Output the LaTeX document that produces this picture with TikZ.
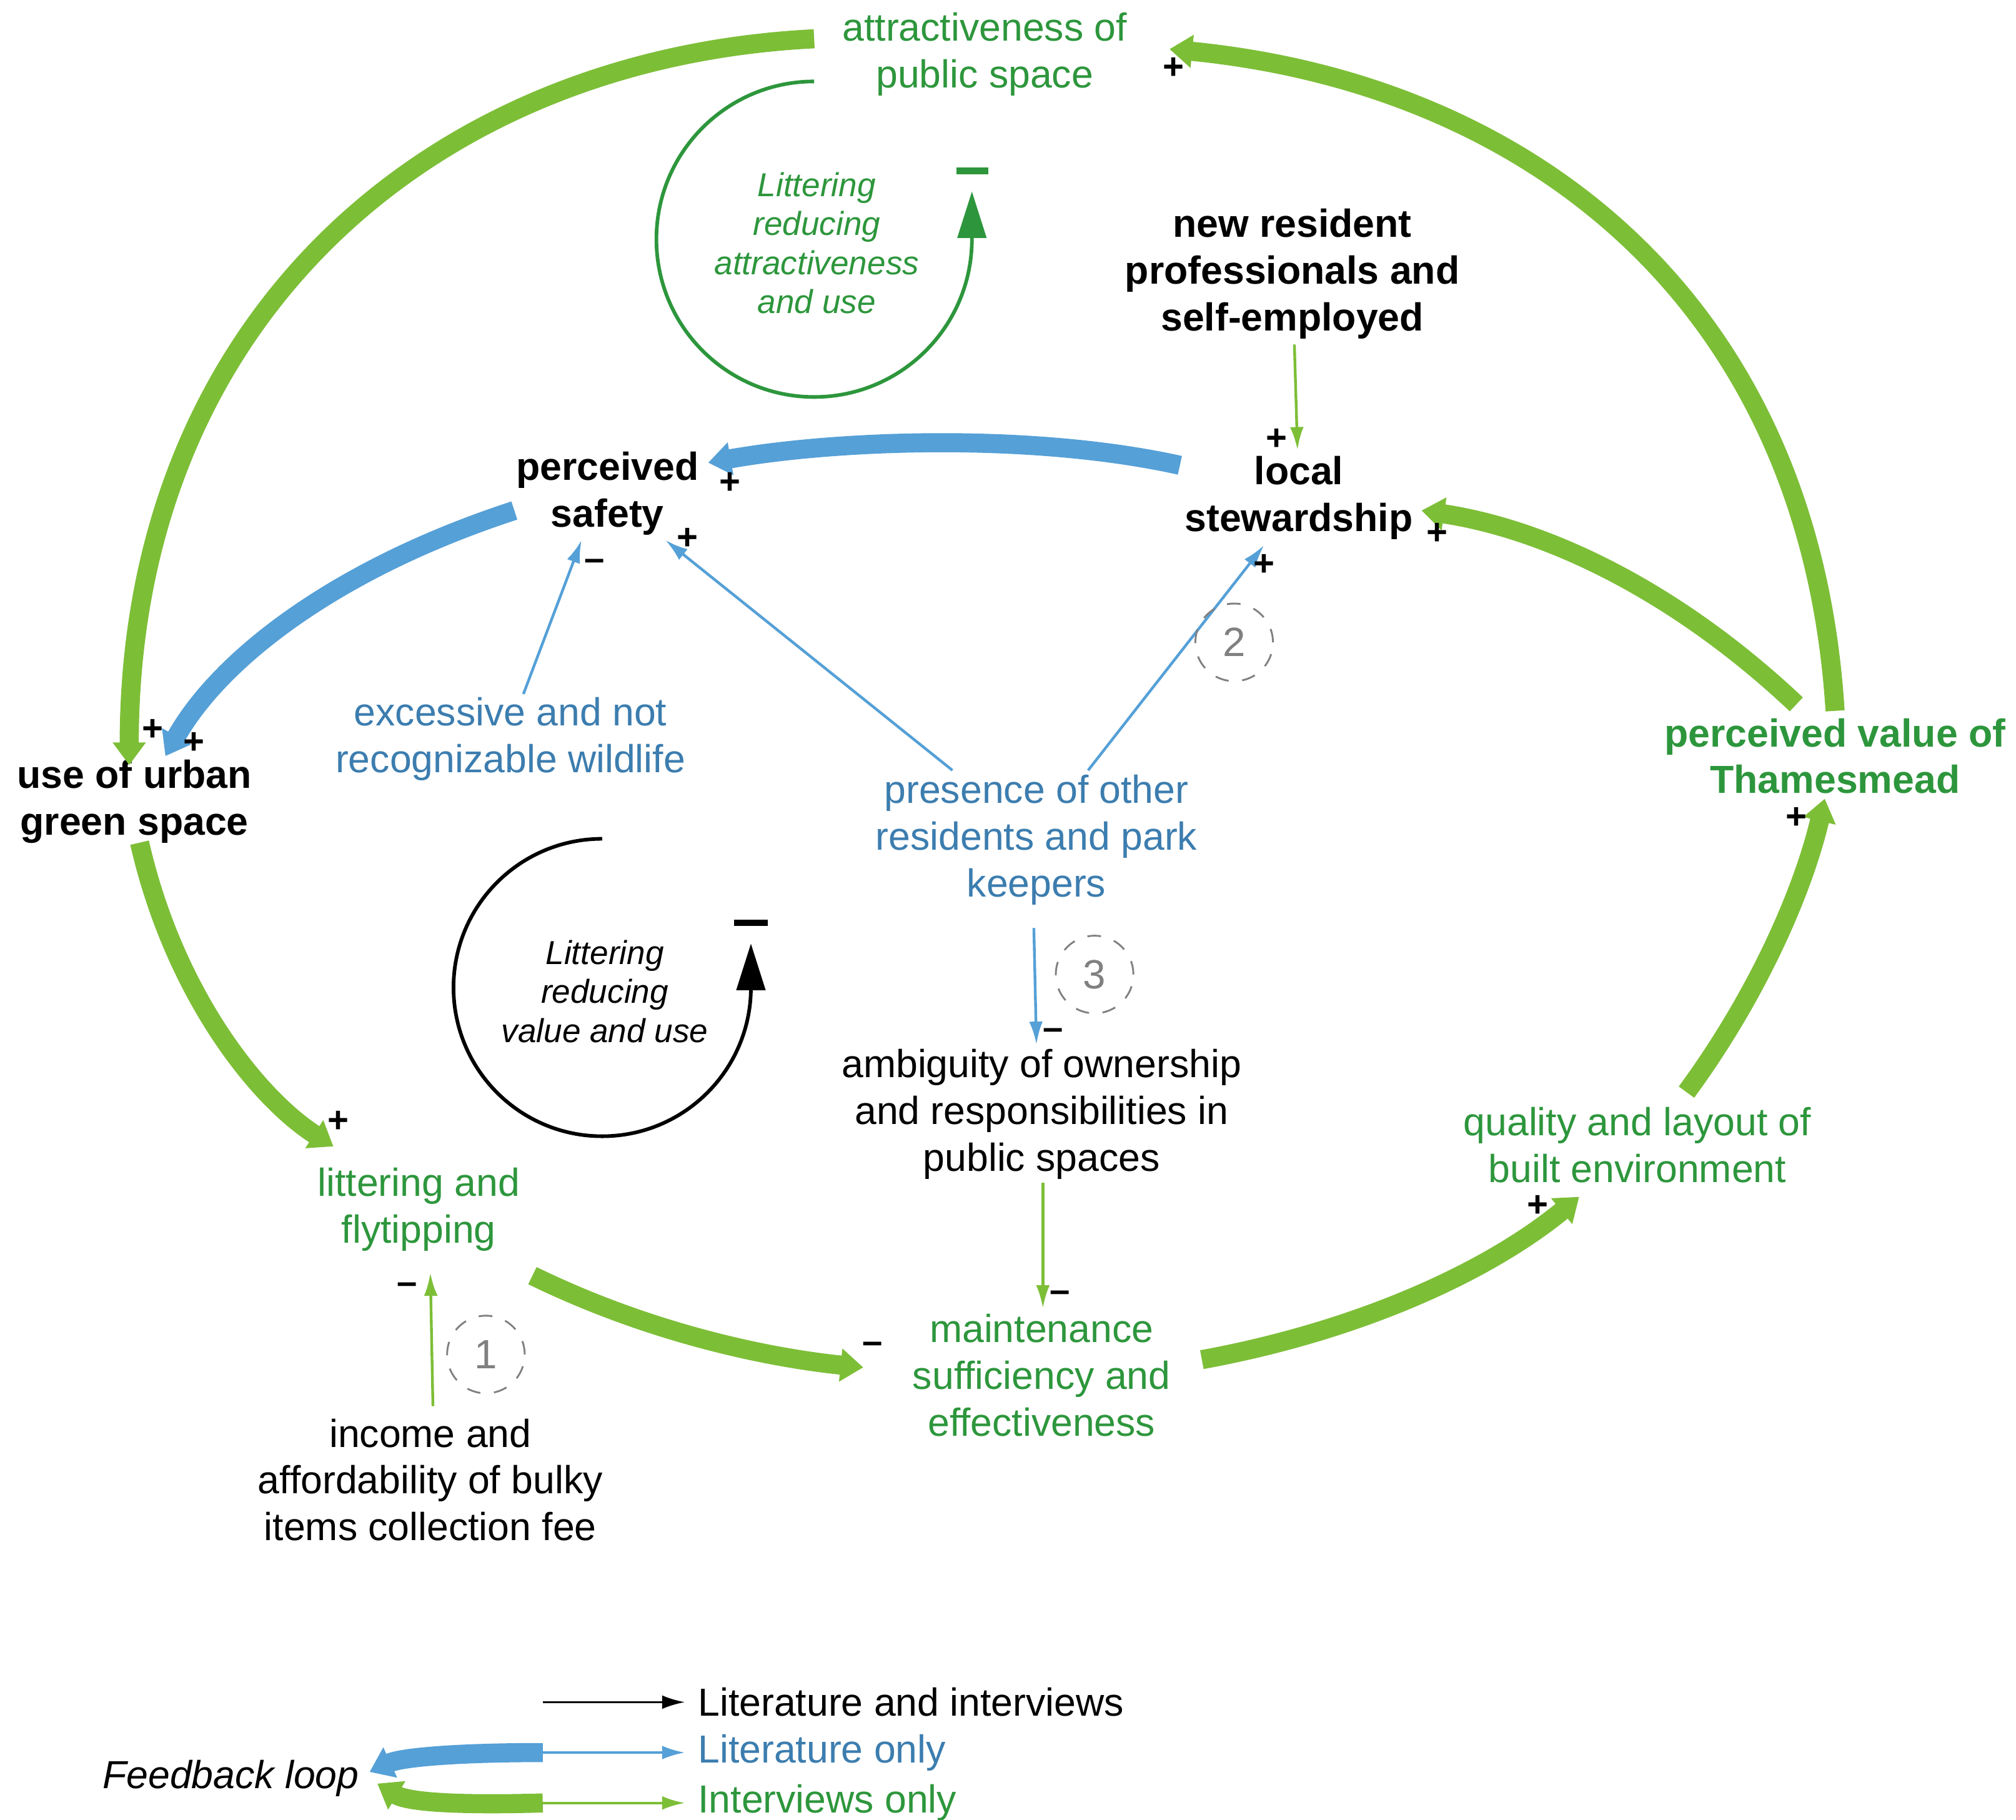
\documentclass[tikz,border=0pt]{standalone}
\usepackage{fontspec}
\setmainfont{Liberation Sans}
\usetikzlibrary{arrows.meta}
\definecolor{gtext}{RGB}{45,150,60}
\definecolor{garc}{RGB}{125,190,55}
\definecolor{barc}{RGB}{85,160,215}
\definecolor{btext}{RGB}{60,125,175}
\begin{document}
\begin{tikzpicture}[x=0.01cm,y=-0.01cm,
  lbl/.style={align=center,inner sep=1pt,font=\fontsize{8.6}{10.3}\selectfont},
  gl/.style={lbl,text=gtext},
  bl/.style={lbl,text=btext},
  bk/.style={lbl,font=\fontsize{8.6}{10.3}\selectfont\bfseries},
  loopt/.style={align=center,font=\fontsize{7.3}{8.6}\selectfont\itshape},
  sgn/.style={font=\fontsize{8}{9}\selectfont\bfseries,inner sep=0pt},
  thg/.style={draw=garc,line width=4.2pt,-{Triangle[length=5pt,width=7pt]}},
  thb/.style={draw=barc,line width=4.2pt,-{Triangle[length=5pt,width=7pt]}},
  tng/.style={draw=garc,line width=0.6pt,-{Latex[length=5pt,width=3pt]}},
  tnb/.style={draw=barc,line width=0.6pt,-{Latex[length=5pt,width=3pt]}},
  tnk/.style={draw=black,line width=0.5pt,-{Latex[length=5pt,width=3pt]}},
  num/.style={circle,draw=gray,dashed,minimum size=0.6cm,inner sep=0pt,text=gray,font=\fontsize{9}{10}\selectfont}]
\useasboundingbox (0,0) rectangle (1560,1408);

% variables
\node[gl] (attr) at (762,42) {attractiveness of\\public space};
\node[bk] (newres) at (1000,212) {new resident\\professionals and\\self-employed};
\node[bk] (safety) at (470,382) {perceived\\safety};
\node[bk] (stew) at (1005,385) {local\\stewardship};
\node[bk] (use) at (104,620) {use of urban\\green space};
\node[bl] (wild) at (395,572) {excessive and not\\recognizable wildlife};
\node[bl] (pres) at (802,650) {presence of other\\residents and park\\keepers};
\node[gl,font=\fontsize{8.6}{10.3}\selectfont\bfseries] (value) at (1420,585) {perceived value of\\Thamesmead};
\node[lbl] (ambig) at (806,862) {ambiguity of ownership\\and responsibilities in\\public spaces};
\node[gl] (qual) at (1267,886) {quality and layout of\\built environment};
\node[gl] (litter) at (324,936) {littering and\\flytipping};
\node[gl] (maint) at (806,1064) {maintenance\\sufficiency and\\effectiveness};
\node[lbl] (income) at (333,1145) {income and\\affordability of bulky\\items collection fee};

% end points of the thick connectors
\coordinate (a1) at (630,30);   \coordinate (u1) at (100,592);
\coordinate (v1) at (1420,550); \coordinate (a2) at (905,38);
\coordinate (v2) at (1390,545); \coordinate (s1) at (1100,395);
\coordinate (q1) at (1305,845); \coordinate (v3) at (1412,618);
\coordinate (m1) at (930,1052); \coordinate (q2) at (1222,926);
\coordinate (l1) at (412,987);  \coordinate (m2) at (668,1058);
\coordinate (u2) at (108,652);  \coordinate (l2) at (258,887);
\coordinate (s2) at (913,360);  \coordinate (p1) at (548,358);
\coordinate (p2) at (398,395);  \coordinate (u3) at (128,585);

\draw[thg] (a1) .. controls (330,45) and (100,250) .. (u1);
\draw[thg] (v1) .. controls (1400,230) and (1180,65) .. (a2);
\draw[thg] (v2) .. controls (1300,460) and (1200,410) .. (s1);
\draw[thg] (q1) .. controls (1360,770) and (1395,690) .. (v3);
\draw[thg] (m1) .. controls (1050,1030) and (1150,985) .. (q2);
\draw[thg] (l1) .. controls (500,1030) and (590,1050) .. (m2);
\draw[thg] (u2) .. controls (135,770) and (200,850) .. (l2);
\draw[thb] (s2) .. controls (800,335) and (650,340) .. (p1);
\draw[thb] (p2) .. controls (260,440) and (170,510) .. (u3);

% thin connectors
\draw[tng] (newres) -- (1004,348);
\draw[tnb] (405,537) -- (450,418);
\draw[tnb] (737,596) -- (515,418);
\draw[tnb] (842,596) -- (978,422);
\draw[tnb] (800,718) -- (802,808);
\draw[tng] (807,915) -- (807,1012);
\draw[tng] (335,1088) -- (333,985);

% polarities
\foreach \p/\s in {{908,53}/+,{565,374}/+,{532,417}/+,{460,437}/--,{988,340}/+,
  {1112,413}/+,{978,437}/+,{118,565}/+,{150,575}/+,{1390,633}/+,{262,868}/+,
  {815,800}/--,{315,997}/--,{820,1003}/--,{675,1043}/--,{1190,933}/+}
  \node[sgn] at (\p) {\s};

% feedback loops
\draw[gtext,line width=0.8pt,-{Triangle[length=0.36cm,width=0.22cm]}] (630,63) arc[start angle=90,end angle=360,radius=1.22cm] -- ++(0,-37);
\draw[gtext,line width=1.5pt] (740,132) -- (765,132);
\node[loopt,text=gtext] (lp1) at (632,188) {Littering\\reducing\\attractiveness\\and use};
\draw[black,line width=0.8pt,-{Triangle[length=0.36cm,width=0.22cm]}] (466,649) arc[start angle=90,end angle=360,radius=1.15cm] -- ++(0,-34);
\draw[black,line width=1.5pt] (568,714) -- (594,714);
\node[loopt] (lp2) at (468,767) {Littering\\reducing\\value and use};

\node[num] (n1) at (376,1048) {1};
\node[num] (n2) at (955,497) {2};
\node[num] (n3) at (847,754) {3};

% legend
\coordinate (k0) at (420,1317); \coordinate (k1) at (530,1317);
\coordinate (b0) at (420,1356); \coordinate (b1) at (530,1356);
\coordinate (g0) at (420,1395); \coordinate (g1) at (530,1395);
\draw[tnk] (k0) -- (k1);
\draw[tnb] (b0) -- (b1);
\draw[tng] (g0) -- (g1);
\node[lbl,anchor=west] (lk) at (536,1317) {Literature and interviews};
\node[lbl,anchor=west,text=btext] (lb) at (536,1356) {Literature only};
\node[lbl,anchor=west,text=gtext] (lg) at (536,1395) {Interviews only};
\node[lbl,anchor=east,font=\fontsize{8.6}{10.3}\selectfont\itshape] (fb) at (282,1376) {Feedback loop};
\coordinate (fb1) at (286,1371); \coordinate (fb2) at (292,1380);
\draw[thb] (b0) .. controls (350,1356) and (310,1360) .. (fb1);
\draw[thg] (g0) .. controls (350,1397) and (315,1394) .. (fb2);
\end{tikzpicture}
\end{document}
